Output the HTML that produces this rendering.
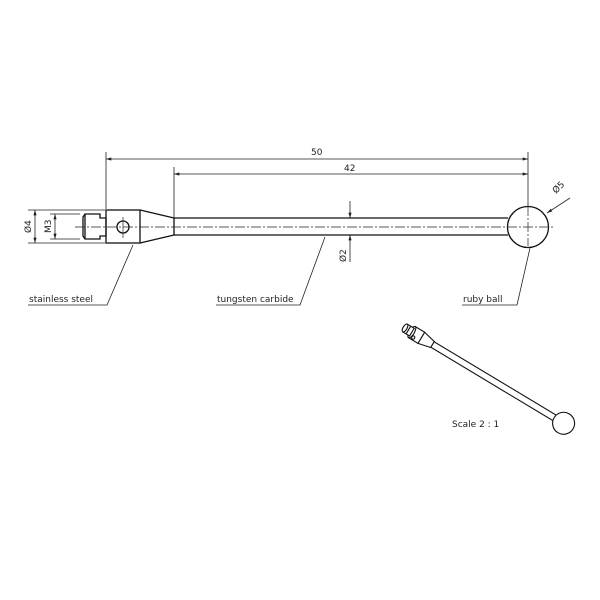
<!DOCTYPE html>
<html><head><meta charset="utf-8"><style>body{margin:0;background:#fff}svg{display:block}text{font-family:"DejaVu Sans","Liberation Sans",sans-serif;font-size:9px;fill:#222}</style></head><body>
<svg width="600" height="600" viewBox="0 0 600 600" xmlns="http://www.w3.org/2000/svg">
<defs><marker id="a" viewBox="0 0 10 6" refX="10" refY="3" markerWidth="8" markerHeight="4" orient="auto-start-reverse"><path d="M0,0L10,3L0,6z" fill="#222"/></marker></defs>
<g stroke="#222" stroke-width="0.8" fill="none">
<line x1="106" y1="152" x2="106" y2="209"/>
<line x1="174" y1="167" x2="174" y2="218"/>
<line x1="528" y1="152" x2="528" y2="206"/>
<line x1="106" y1="159" x2="528" y2="159" marker-start="url(#a)" marker-end="url(#a)"/>
<line x1="174" y1="174" x2="528" y2="174" marker-start="url(#a)" marker-end="url(#a)"/>
<line x1="28" y1="210" x2="105" y2="210"/>
<line x1="28" y1="243" x2="105" y2="243"/>
<line x1="35" y1="210" x2="35" y2="243" marker-start="url(#a)" marker-end="url(#a)"/>
<line x1="50" y1="214" x2="80" y2="214"/>
<line x1="50" y1="239" x2="80" y2="239"/>
<line x1="55" y1="214" x2="55" y2="239" marker-start="url(#a)" marker-end="url(#a)"/>
<line x1="350" y1="201" x2="350" y2="218" marker-end="url(#a)"/>
<line x1="350" y1="262" x2="350" y2="235" marker-end="url(#a)"/>
<line x1="570" y1="198" x2="547" y2="213" marker-end="url(#a)"/>
</g>
<g stroke="#111" stroke-width="1.3" fill="none">
<path d="M83,217 L85,214 L100,214 L100,218 L106,218 L106,236 L100,236 L100,239 L85,239 L83,236 Z"/>
<line x1="85" y1="214" x2="85" y2="239"/>
<rect x="106" y="210" width="34" height="33"/>
<circle cx="123" cy="227" r="6"/>
<path d="M140,210 L174,218 L174,235 L140,243"/>
<line x1="174" y1="218" x2="508" y2="218"/>
<line x1="174" y1="235" x2="508" y2="235"/>
<circle cx="528" cy="227" r="20.5" fill="#fff"/>
</g>
<line x1="75" y1="227" x2="555" y2="227" stroke="#222" stroke-width="0.7" stroke-dasharray="10,2,2,2"/>
<line x1="528" y1="206" x2="528" y2="246" stroke="#222" stroke-width="0.7" stroke-dasharray="10,2,2,2"/>
<line x1="123" y1="217" x2="123" y2="238" stroke="#222" stroke-width="0.7"/>
<g stroke="#222" stroke-width="0.8" fill="none">
<polyline points="28,305 107,305 133,245"/>
<polyline points="216,305 300,305 325,237"/>
<polyline points="462,305 517,305 530,248"/>
</g>
<text x="29" y="302">stainless steel</text>
<text x="217" y="302">tungsten carbide</text>
<text x="463" y="302">ruby ball</text>
<text x="311" y="155">50</text>
<text x="344" y="171">42</text>
<text transform="translate(31,233) rotate(-90)">Ø4</text>
<text transform="translate(51,233) rotate(-90)">M3</text>
<text transform="translate(346,262) rotate(-90)">Ø2</text>
<text transform="translate(556,194) rotate(-45)">Ø5</text>
<text x="452" y="427">Scale 2 : 1</text>
<g transform="translate(405,328) rotate(31)" stroke="#111" stroke-width="1.1" fill="#fff">
<rect x="32" y="-3.2" width="144" height="6.4"/>
<path d="M19,-6.5 L32,-3.5 L32,3.5 L19,6.5 Z"/>
<rect x="8" y="-6.5" width="11" height="13"/>
<ellipse cx="8" cy="0" rx="2.5" ry="6.5"/>
<rect x="0" y="-4.5" width="8" height="9"/>
<ellipse cx="0" cy="0" rx="2" ry="4.5"/>
<line x1="4" y1="-4.5" x2="4" y2="4.5"/>
<ellipse cx="12" cy="4" rx="1.5" ry="1.8"/>
<circle cx="185" cy="0" r="11"/>
</g>
</svg>
</body></html>
